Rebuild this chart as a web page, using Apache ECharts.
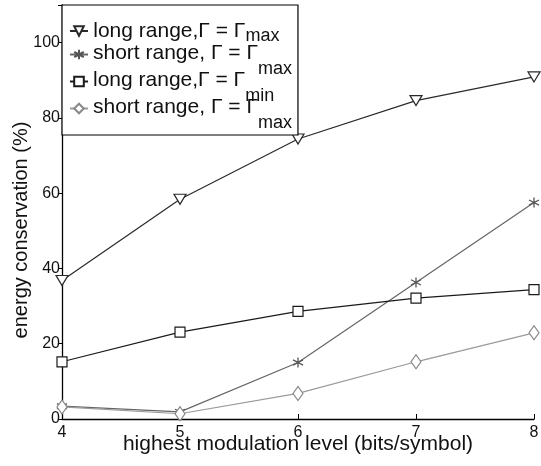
<!DOCTYPE html>
<html>
<head>
<meta charset="utf-8">
<script src="https://cdn.jsdelivr.net/npm/echarts@6/dist/echarts.min.js"></script>
<style>
html,body{margin:0;padding:0;background:#fff;}
#c{width:541px;height:466px;}
</style>
</head>
<body>
<div id="c"></div>
<script>
// categories (x values: highest modulation level)
var levels = [4, 5, 6, 7, 8];
// series values (energy conservation %)
var longMax  = [36.8, 58.4, 74.4, 84.6, 90.9];
var shortMax = [3.4, 1.9, 15.0, 36.3, 57.5];
var longMin  = [15.2, 23.1, 28.6, 32.1, 34.4];
var shortMax2 = [3.2, 1.4, 6.8, 15.2, 22.9];
// tick labels
var yTicks = [0, 20, 40, 60, 80, 100];
var xTicks = [4, 5, 6, 7, 8];
// legend labels: [main text, subscript]
var legendMain = ['long range,\u0393 = \u0393', 'short range, \u0393 = \u0393', 'long range,\u0393 = \u0393', 'short range, \u0393 = \u0393'];
var legendSub = ['max', 'max', 'min', 'max'];
var keys = ['s1', 's2', 's3', 's4'];

function pairs(vals) { return levels.map(function (x, i) { return [x, vals[i]]; }); }

var font = 'Liberation Sans, Arial, Helvetica, sans-serif';
var asterisk = 'path://M0,-5L0,5M-4.4,-2.6L4.4,2.6M-4.4,2.6L4.4,-2.6';

var chart = echarts.init(document.getElementById('c'), null, {renderer: 'canvas'});
chart.setOption({
  animation: false,
  backgroundColor: '#fff',
  grid: {left: 62, right: 7, top: 5, bottom: 47, containLabel: false, outerBoundsMode: 'none'},
  xAxis: {
    type: 'value', min: 4, max: 8, interval: 1,
    axisLine: {lineStyle: {color: '#000', width: 1.3}},
    axisTick: {inside: true, length: 5, lineStyle: {color: '#000'}},
    splitLine: {show: false},
    axisLabel: {color: '#111', fontSize: 16, fontFamily: font, margin: 6,
      formatter: function (v) { return xTicks.indexOf(v) >= 0 ? String(v) : ''; }},
    name: 'highest modulation level (bits/symbol)',
    nameLocation: 'middle', nameGap: 14, nameMoveOverlap: false,
    nameTextStyle: {color: '#111', fontSize: 21, fontFamily: font, lineHeight: 22}
  },
  yAxis: {
    type: 'value', min: 0, max: 110, interval: 20,
    axisLine: {show: true, lineStyle: {color: '#000', width: 1.3}},
    axisTick: {show: true, inside: false, length: 4, lineStyle: {color: '#000'}},
    splitLine: {show: false},
    axisLabel: {color: '#111', fontSize: 16, fontFamily: font, margin: 2,
      formatter: function (v) { return yTicks.indexOf(v) >= 0 ? String(v) : ''; }},
    name: 'energy conservation (%)',
    nameLocation: 'middle', nameGap: 31, nameMoveOverlap: false,
    nameTextStyle: {color: '#111', fontSize: 20, fontFamily: font, padding: [0, 36, 0, 0]}
  },
  legend: {
    orient: 'vertical', left: 62, top: 5,
    data: keys,
    selectedMode: false,
    backgroundColor: '#fff',
    borderColor: '#000', borderWidth: 1.2,
    padding: [6, 6, 3, 7],
    itemGap: -8,
    itemWidth: 18, itemHeight: 12, itemTextGap: 5,
    formatter: function (name) {
      var i = keys.indexOf(name);
      if (i === 0) {
        return '{sp|.}{mA|' + legendMain[i] + '}{subA|' + legendSub[i] + '}';
      }
      return '{m|' + legendMain[i] + '}{subB|' + legendSub[i] + '}';
    },
    textStyle: {
      fontFamily: font, color: '#111',
      rich: {
        sp: {fontSize: 1, lineHeight: 40, height: 40, color: 'rgba(0,0,0,0)', verticalAlign: 'middle'},
        mA: {fontSize: 21, lineHeight: 23, fontFamily: font, color: '#111', verticalAlign: 'middle'},
        subA: {fontSize: 18, lineHeight: 18, fontFamily: font, color: '#111', verticalAlign: 'middle', padding: [10, 0, 0, 0]},
        m: {fontSize: 21, lineHeight: 23, fontFamily: font, color: '#111', verticalAlign: 'top'},
        subB: {fontSize: 18, lineHeight: 18, fontFamily: font, color: '#111', verticalAlign: 'top', padding: [17, 0, 0, 0]}
      }
    }
  },
  series: [
    {name: 's1', type: 'line', data: pairs(longMax),
      symbol: 'triangle', symbolRotate: 180, symbolSize: [12, 10],
      lineStyle: {color: '#2a2a2a', width: 1.2},
      itemStyle: {color: '#fff', borderColor: '#2a2a2a', borderWidth: 1.2}},
    {name: 's2', type: 'line', data: pairs(shortMax),
      symbol: asterisk, symbolSize: 10,
      lineStyle: {color: '#666', width: 1.2},
      itemStyle: {color: '#fff', borderColor: '#555', borderWidth: 1.3}},
    {name: 's3', type: 'line', data: pairs(longMin),
      symbol: 'rect', symbolSize: 10,
      lineStyle: {color: '#1a1a1a', width: 1.2},
      itemStyle: {color: '#fff', borderColor: '#1a1a1a', borderWidth: 1.2}},
    {name: 's4', type: 'line', data: pairs(shortMax2),
      symbol: 'diamond', symbolSize: [10, 14],
      lineStyle: {color: '#9a9a9a', width: 1.2},
      itemStyle: {color: '#fff', borderColor: '#888', borderWidth: 1.2}}
  ]
});
</script>
</body>
</html>
